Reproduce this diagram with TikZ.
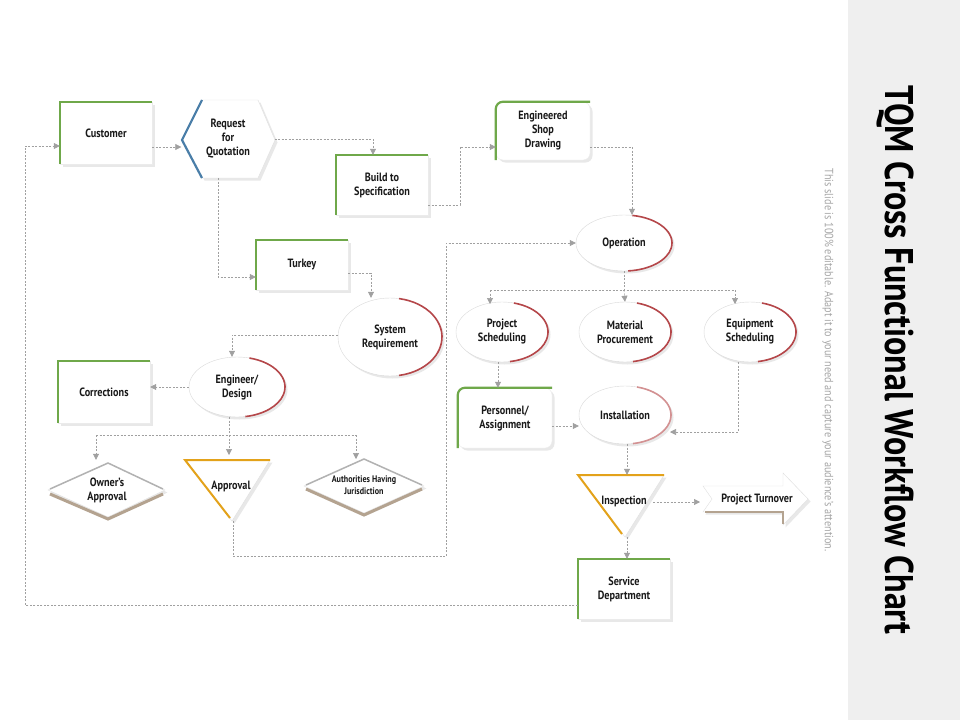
\documentclass[tikz,border=0pt]{standalone}
\usepackage{fontspec}
\setmainfont[FakeStretch=0.85]{PT Sans}
\usetikzlibrary{arrows.meta,shapes.geometric,shadows}
\definecolor{grn}{HTML}{6FA84A}
\definecolor{blu}{HTML}{4A7EA8}
\definecolor{redc}{HTML}{B5474A}
\definecolor{org}{HTML}{E3A21A}
\definecolor{taupe}{HTML}{B4A390}
\definecolor{lin}{HTML}{A0A0A0}
\definecolor{panel}{HTML}{EFEFEF}
\begin{document}
\begin{tikzpicture}[x=1pt,y=-1pt,
  shad/.style={drop shadow={opacity=0.18,shadow xshift=2.5pt,shadow yshift=-2.5pt}},
  txt/.style={font=\bfseries\fontsize{12}{14}\selectfont,align=center,text=black!90},
  box/.style={txt,rectangle,fill=white,draw=black!8,shad,minimum width=92,minimum height=62,inner sep=0},
  rbox/.style={box,rounded corners=7pt},
  ell/.style={txt,ellipse,fill=white,draw=black!15,shad,minimum width=94,minimum height=56,inner sep=0},
  conn/.style={lin,dashed,dash pattern=on 2pt off 1.5pt,line width=0.6pt,-{Triangle[width=6pt,length=6pt]}},
  seg/.style={lin,dashed,dash pattern=on 2pt off 1.5pt,line width=0.6pt},
  gb/.style={grn,line width=2.2pt},
  rarc/.style={redc,line width=1.6pt},
  poly/.style={fill=white,draw=black!12,shad}]
\useasboundingbox (0,0) rectangle (960,720);
\fill[white] (0,0) rectangle (960,720);
\fill[panel] (848,0) rectangle (960,720);
\node[rotate=-90,font=\bfseries\fontsize{40}{44}\selectfont] (title) at (895,360) {TQM Cross Functional Workflow Chart};
\node[rotate=-90,text=black!35,font=\fontsize{12}{13}\selectfont] (sub) at (828,360) {This slide is 100\% editable. Adapt it to your need and capture your audience's attention.};

% boxes
\node[box] (cust) at (106,133) {Customer};
\draw[gb] (cust.south west) |- (cust.north east);
\node[box,minimum height=60] (build) at (382,185) {Build to\\Specification};
\draw[gb] (build.south west) |- (build.north east);
\node[rbox,minimum width=94,minimum height=58] (esd) at (543,131) {Engineered\\Shop\\Drawing};
\draw[gb,rounded corners=7pt] (esd.south west) |- (esd.north east);
\node[box,minimum height=50] (turk) at (302,265) {Turkey};
\draw[gb] (turk.south west) |- (turk.north east);
\node[box] (corr) at (104,392) {Corrections};
\draw[gb] (corr.south west) |- (corr.north east);
\node[rbox,minimum width=94,minimum height=60] (pers) at (505,418) {Personnel/\\Assignment};
\draw[gb,rounded corners=7pt] (pers.south west) |- (pers.north east);
\node[box,minimum height=60] (serv) at (624,589) {Service\\Department};
\draw[gb] (serv.south west) |- (serv.north east);

% hexagon
\draw[poly] (202,100) -- (258,100) -- (275,140) -- (258,178) -- (202,178) -- (182,140) -- cycle;
\draw[blu,line width=2.2pt] (202,100) -- (182,140) -- (202,178);
\node[txt,minimum width=93,minimum height=78,inner sep=0] (rfq) at (228,139) {Request\\for\\Quotation};

% ellipses
\node[ell,minimum width=96,minimum height=56] (oper) at (624,243) {Operation};
\draw[rarc] (oper.center) ++(-80:48 and 28) arc[start angle=-80,end angle=85,x radius=48,y radius=28];
\node[ell,minimum width=104,minimum height=78] (sysr) at (390,337) {System\\Requirement};
\draw[rarc] (sysr.center) ++(-80:52 and 39) arc[start angle=-80,end angle=80,x radius=52,y radius=39];
\node[ell,minimum width=92,minimum height=60] (ps) at (502,332) {Project\\Scheduling};
\draw[rarc] (ps.center) ++(-75:46 and 30) arc[start angle=-75,end angle=80,x radius=46,y radius=30];
\node[ell,minimum width=92,minimum height=60] (mp) at (625,332) {Material\\Procurement};
\draw[rarc] (mp.center) ++(-75:46 and 30) arc[start angle=-75,end angle=80,x radius=46,y radius=30];
\node[ell,minimum width=92,minimum height=60] (es) at (750,332) {Equipment\\Scheduling};
\draw[rarc] (es.center) ++(-75:46 and 30) arc[start angle=-75,end angle=80,x radius=46,y radius=30];
\node[ell,minimum width=96,minimum height=60] (eng) at (237,387) {Engineer/\\Design};
\draw[rarc] (eng.center) ++(-75:48 and 30) arc[start angle=-75,end angle=80,x radius=48,y radius=30];
\node[ell,minimum width=92,minimum height=58] (inst) at (625,415) {Installation};
\draw[rarc,redc!60] (inst.center) ++(-75:46 and 29) arc[start angle=-75,end angle=80,x radius=46,y radius=29];

% diamonds
\draw[poly] (48,490) -- (108,463) -- (165,490) -- (108,517) -- cycle;
\draw[black!30,line width=1.5pt] (50,489) -- (108,463) -- (163,489);
\draw[taupe,line width=3pt] (50,494) -- (108,519) -- (163,494);
\node[txt,minimum width=110,minimum height=60,inner sep=0] (own) at (107,490) {Owner's\\Approval};
\draw[poly] (304,486) -- (364,459) -- (424,486) -- (364,513) -- cycle;
\draw[black!30,line width=1.5pt] (306,485) -- (364,459) -- (422,485);
\draw[taupe,line width=3pt] (306,489) -- (364,515) -- (422,489);
\node[txt,font=\bfseries\fontsize{9.5}{11.5}\selectfont,minimum width=120,minimum height=58,inner sep=0] (auth) at (364,485) {Authorities Having\\Jurisdiction};

% triangles
\draw[poly] (185,460) -- (270,460) -- (232,521) -- cycle;
\draw[org,line width=2pt] (270,460) -- (185,460) -- (230,518);
\node[txt,minimum width=84,minimum height=60,inner sep=0] (appr) at (231,490) {\raisebox{9pt}{Approval}};
\draw[poly] (578,475) -- (664,475) -- (625,537) -- cycle;
\draw[org,line width=2pt] (664,475) -- (578,475) -- (622,534);
\node[txt,minimum width=86,minimum height=62,inner sep=0] (insp) at (624,506) {\raisebox{12pt}{Inspection}};

% arrow
\draw[poly] (703,486) -- (783,486) -- (783,473) -- (808,499) -- (783,525) -- (783,512) -- (703,512) -- (712,499) -- cycle;
\draw[taupe,line width=2.2pt] (705,512) -- (783,512) -- (783,524);
\node[txt,minimum width=90,minimum height=26,inner sep=0] (pt) at (757,499) {Project Turnover};

% connectors
\draw[conn] (cust.east |- 0,147) -- (rfq.west |- 0,147);
\draw[conn] (serv.west |- 0,605) -| (25,146) -- (cust.west |- 0,146);
\draw[conn] (rfq.east) -| (build.north -| 373,0);
\draw[conn] (rfq.south -| 218,0) |- (turk.west |- 0,277);
\draw[conn] (build.east |- 0,205) -| (460,147) -- (esd.west |- 0,147);
\draw[conn] (esd.east |- 0,147) -| (oper.north -| 632,0);
\draw[conn] (turk.east |- 0,273) -| (sysr.north -| 371,0);
\draw[conn] (sysr.west |- 0,335) -| (eng.north -| 232,0);
\draw[conn] (eng.west) -- (corr.east |- eng.west);
\draw[seg] (eng.south -| 229,0) -- (229,435);
\draw[seg] (96,435) -- (356,435);
\draw[conn] (96,435) -- (own.north -| 96,0);
\draw[conn] (229,435) -- (229,455);
\draw[conn] (356,435) -- (356,459);
\draw[conn] (233,521) |- (446,556) |- (oper.west);
\draw[seg] (oper.south) -- (624,290);
\draw[seg] (490,290) -- (735,290);
\draw[conn] (490,290) -- (490,304);
\draw[conn] (624,290) -- (mp.north);
\draw[conn] (735,290) -- (735,304);
\draw[conn] (ps.south -| 498,0) -- (pers.north -| 498,0);
\draw[conn] (pers.east |- 0,426) -- (inst.west |- 0,426);
\draw[conn] (es.south -| 738,0) |- (670,432);
\draw[conn] (inst.south -| 627,0) -- (insp.north -| 627,0);
\draw[conn] (653,502) -- (700,502);
\draw[conn] (627,537) -- (serv.north -| 627,0);
\end{tikzpicture}
\end{document}
